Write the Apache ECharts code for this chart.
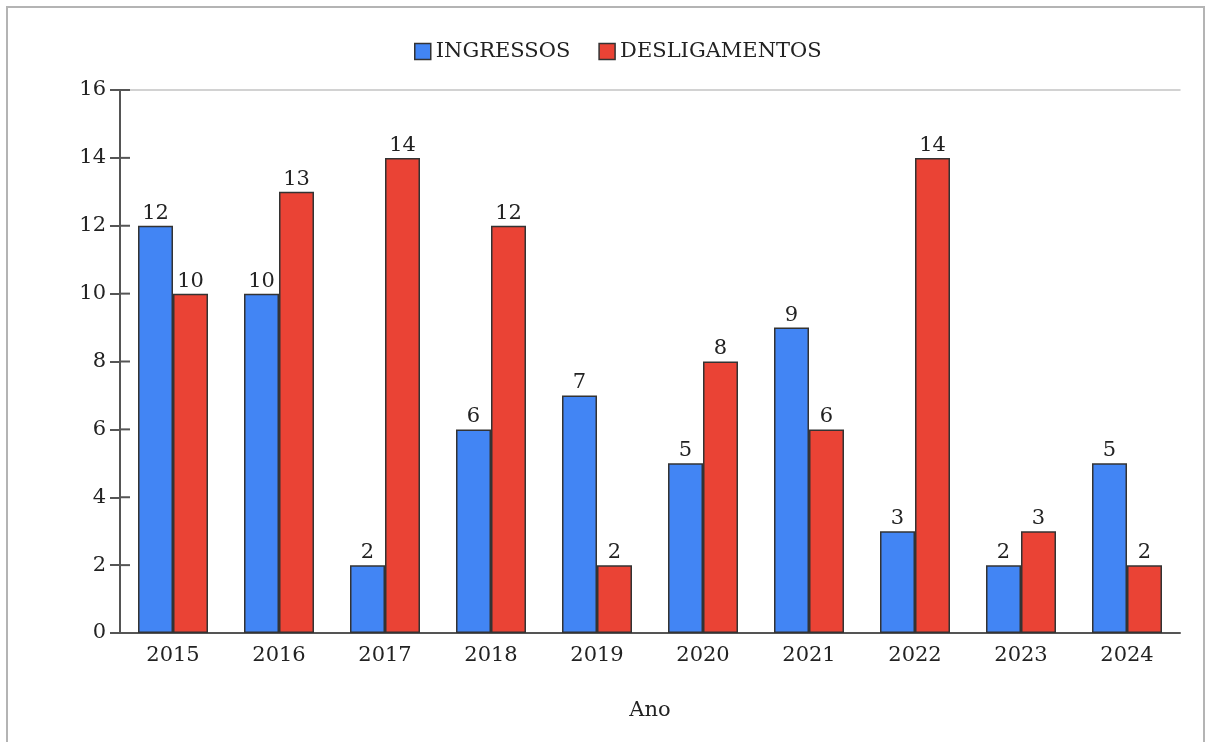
<!DOCTYPE html>
<html>
<head>
<meta charset="utf-8">
<script src="https://cdn.jsdelivr.net/npm/echarts@6/dist/echarts.min.js"></script>
<style>
  html, body { margin: 0; padding: 0; background: #fff; }
  .wrap { position: relative; width: 1207px; height: 742px; overflow: hidden; }
  .frame {
    position: absolute; left: 6px; top: 6px; width: 1199px; height: 760px;
    border: 2px solid #b4b4b4; box-sizing: border-box;
  }
  #chart { position: absolute; left: 0; top: 0; width: 1207px; height: 742px; }
</style>
</head>
<body>
<div class="wrap">
  <div class="frame"></div>
  <div id="chart"></div>
</div>
<script>
// dados
const anos = ['2015', '2016', '2017', '2018', '2019', '2020', '2021', '2022', '2023', '2024'];
const ingressos = [12, 10, 2, 6, 7, 5, 9, 3, 2, 5];
const desligamentos = [10, 13, 14, 12, 2, 8, 6, 14, 3, 2];
const ticksY = [0, 2, 4, 6, 8, 10, 12, 14, 16];

const fonte = 'DejaVu Serif';
const corTexto = '#222';
const corEixo = '#555';

const myChart = echarts.init(document.getElementById('chart'));

// metade do tick do eixo y, para dentro do grid
function tickDentro(params, api) {
  const p = api.coord([api.value(0), api.value(1)]);
  const meia = api.size([1, 0])[0] / 2;
  const x = p[0] - meia;
  return {
    type: 'line',
    shape: { x1: x, y1: p[1], x2: x + 10, y2: p[1] },
    style: { stroke: corEixo, lineWidth: 2 }
  };
}

const option = {
  animation: false,
  textStyle: { fontFamily: fonte, color: corTexto },
  legend: {
    top: 36,
    left: 409,
    itemWidth: 16,
    itemHeight: 16,
    itemGap: 28,
    icon: 'rect',
    itemStyle: { borderColor: '#333', borderWidth: 1.5 },
    textStyle: { fontFamily: fonte, fontSize: 21, color: corTexto },
    data: ['INGRESSOS', 'DESLIGAMENTOS']
  },
  grid: { left: 120, right: 27, top: 90, bottom: 109 },
  xAxis: [
    {
      type: 'category',
      data: anos,
      name: 'Ano',
      nameLocation: 'middle',
      nameGap: 67,
      nameTextStyle: { fontFamily: fonte, fontSize: 21, color: corTexto },
      axisLine: { lineStyle: { color: corEixo, width: 2 } },
      axisTick: { show: false },
      axisLabel: { fontFamily: fonte, fontSize: 21, color: corTexto, margin: 12 }
    },
    {
      // linha cinza no topo (16)
      type: 'category',
      position: 'top',
      data: anos,
      axisLine: { lineStyle: { color: '#c4c4c4', width: 1.5 } },
      axisTick: { show: false },
      axisLabel: { show: false }
    }
  ],
  yAxis: {
    type: 'value',
    min: 0,
    max: 16,
    interval: 2,
    axisLine: { show: true, lineStyle: { color: corEixo, width: 2 } },
    axisTick: { show: true, length: 10, lineStyle: { color: corEixo, width: 2 } },
    axisLabel: { fontFamily: fonte, fontSize: 21, color: corTexto, margin: 14 },
    splitLine: { show: false }
  },
  series: [
    {
      name: 'INGRESSOS',
      type: 'bar',
      data: ingressos,
      barWidth: 35,
      barGap: '0%',
      itemStyle: { color: '#4285F4', borderColor: '#333', borderWidth: 1.5 },
      label: { show: true, position: 'top', distance: 2, fontFamily: fonte, fontSize: 21, color: corTexto }
    },
    {
      name: 'DESLIGAMENTOS',
      type: 'bar',
      data: desligamentos,
      barWidth: 35,
      barGap: '0%',
      itemStyle: { color: '#EA4335', borderColor: '#333', borderWidth: 1.5 },
      label: { show: true, position: 'top', distance: 2, fontFamily: fonte, fontSize: 21, color: corTexto }
    },
    {
      name: 'ticks',
      type: 'custom',
      silent: true,
      clip: false,
      z: 5,
      renderItem: tickDentro,
      data: ticksY.map(function (v) { return [0, v]; })
    }
  ]
};

myChart.setOption(option);
window.addEventListener('resize', function () { myChart.resize(); });
</script>
</body>
</html>
